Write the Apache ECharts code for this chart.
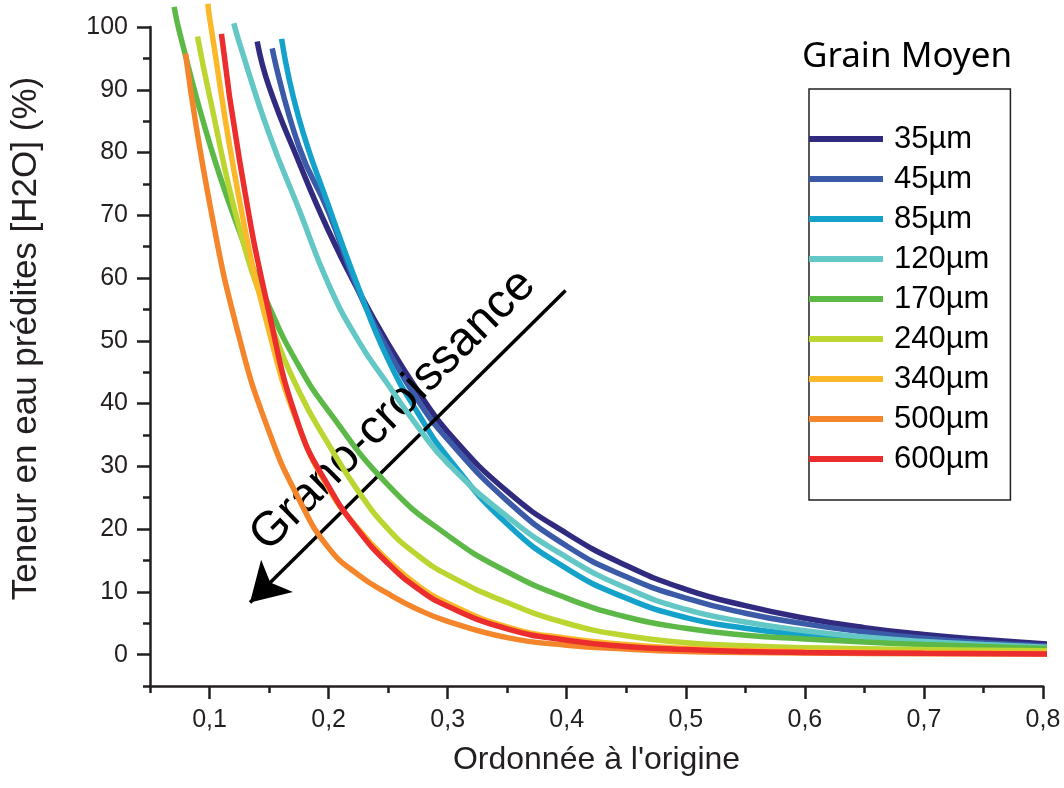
<!DOCTYPE html>
<html><head><meta charset="utf-8">
<script src="https://cdn.jsdelivr.net/npm/echarts@6/dist/echarts.min.js"></script>
<style>html,body{margin:0;padding:0;background:#fff}#c{width:1064px;height:788px}</style>
</head><body><div id="c"></div>
<script>
// ---- data (x = ordonnée à l'origine, y = teneur en eau %) ----
const grainSizes = ['35µm','45µm','85µm','120µm','170µm','240µm','340µm','500µm','600µm'];
const s35  = [[0.140,97.7],[0.15,90.5],[0.175,78.5],[0.2,67.5],[0.225,58],[0.25,49.5],[0.275,42],[0.3,35.5],[0.35,26],[0.4,19.3],[0.45,14.2],[0.5,10.4],[0.55,7.8],[0.6,5.8],[0.65,4.3],[0.7,3.2],[0.75,2.4],[0.812,1.6]];
const s45  = [[0.1526,96.6],[0.175,81],[0.2,70.5],[0.225,58],[0.25,48.5],[0.275,40.5],[0.3,34.3],[0.35,24.5],[0.4,17.3],[0.45,12.4],[0.5,9.0],[0.55,6.6],[0.6,4.9],[0.65,3.6],[0.7,2.6],[0.75,1.9],[0.812,1.3]];
const s85  = [[0.1605,98.1],[0.175,85.5],[0.2,71.5],[0.225,58.5],[0.25,47],[0.275,38.5],[0.3,31.5],[0.35,20.8],[0.4,13.7],[0.45,9.0],[0.5,5.9],[0.55,4.2],[0.6,3.1],[0.65,2.3],[0.7,1.8],[0.75,1.4],[0.812,1.0]];
const s120 = [[0.1204,100.6],[0.125,97.5],[0.15,83],[0.175,71],[0.2,59],[0.225,50],[0.25,43],[0.275,36.3],[0.3,30.5],[0.35,22],[0.4,15.5],[0.45,10.6],[0.5,7.2],[0.55,5.2],[0.6,3.8],[0.65,2.8],[0.7,2.1],[0.75,1.6],[0.812,1.1]];
const s170 = [[0.0703,103.2],[0.075,99],[0.1,81.5],[0.125,67.5],[0.15,55.5],[0.175,46],[0.2,38.8],[0.25,27],[0.3,19],[0.35,13.2],[0.4,9.0],[0.45,6.0],[0.5,4.2],[0.55,3.1],[0.6,2.5],[0.65,2.0],[0.7,1.6],[0.75,1.3],[0.812,0.9]];
const s240 = [[0.0899,98.5],[0.1,89],[0.125,68],[0.15,53.5],[0.175,42],[0.2,33.5],[0.225,26],[0.25,20],[0.275,15.8],[0.3,12.7],[0.35,8.3],[0.4,5.0],[0.45,3.0],[0.5,1.9],[0.55,1.4],[0.6,1.1],[0.65,0.95],[0.7,0.8],[0.75,0.7],[0.812,0.6]];
const s340 = [[0.0986,103.7],[0.1,101.5],[0.125,72.5],[0.15,51.5],[0.175,36.3],[0.2,26.5],[0.225,20],[0.25,15],[0.275,11],[0.3,8.2],[0.35,4.4],[0.4,2.6],[0.45,1.6],[0.5,1.0],[0.55,0.7],[0.6,0.5],[0.7,0.35],[0.812,0.25]];
const s500 = [[0.0798,95.8],[0.1,72],[0.125,50.5],[0.15,35.5],[0.175,24.8],[0.2,17],[0.225,12.7],[0.25,9.7],[0.275,7.2],[0.3,5.3],[0.35,2.7],[0.4,1.5],[0.45,0.9],[0.5,0.5],[0.55,0.35],[0.6,0.25],[0.7,0.15],[0.812,0.1]];
const s600 = [[0.110,98.9],[0.125,79],[0.15,54.5],[0.175,36.5],[0.2,26.8],[0.225,19.8],[0.25,14.5],[0.275,10.5],[0.3,7.7],[0.35,4.1],[0.4,2.3],[0.45,1.3],[0.5,0.8],[0.55,0.5],[0.6,0.35],[0.7,0.2],[0.811,0.1]];
const seriesValues = [s35, s45, s85, s120, s170, s240, s340, s500, s600];

const xMajorTicks = [0.1,0.2,0.3,0.4,0.5,0.6,0.7,0.8];
const xTickLabels = ['0,1','0,2','0,3','0,4','0,5','0,6','0,7','0,8'];
const xMinorTicks = [0.05,0.15,0.25,0.35,0.45,0.55,0.65,0.75];
const yMajorTicks = [0,10,20,30,40,50,60,70,80,90,100];
const yMinorTicks = [-5,5,15,25,35,45,55,65,75,85,95];

const arrowStart = [0.399, 58];
const arrowEnd = [0.134, 8.3];
const arrowText = 'Grano-croissance';

// ---- styles ----
const palette = ['#312b80','#3b5aa8','#14a2cb','#63c7c6','#5cb947','#bcd531','#fbb829','#f4852b','#ec2d2d'];
const ink = '#231f20';
const sansFont = "'Liberation Sans', Arial, sans-serif";

const chart = echarts.init(document.getElementById('c'), null, {renderer: 'canvas'});

function xLabel(v) {
  for (let i = 0; i < xMajorTicks.length; i++) if (Math.abs(xMajorTicks[i] - v) < 1e-9) return xTickLabels[i];
  return '';
}

const series = seriesValues.map((d, i) => ({
  name: grainSizes[i],
  type: 'line',
  data: d,
  clip: false,
  showSymbol: false,
  symbol: 'none',
  smooth: 0.5,
  lineStyle: {color: palette[i], width: 5.5},
  itemStyle: {color: palette[i]},
  emphasis: {disabled: true},
  z: 2 + i
}));
series.push({
  type: 'line',
  data: [],
  silent: true,
  z: 20,
  markLine: {
    silent: true,
    animation: false,
    symbol: ['none', 'arrow'],
    symbolSize: [34, 38],
    lineStyle: {color: '#000', width: 3.5, type: 'solid'},
    label: {show: true, position: 'middle', formatter: arrowText, fontSize: 48, fontFamily: sansFont, color: '#000', distance: 12, padding: [0, 0, 0, 30]},
    emphasis: {disabled: true},
    data: [[{coord: arrowStart}, {coord: arrowEnd}]]
  }
});

chart.setOption({
  animation: false,
  backgroundColor: '#fff',
  title: {
    text: 'Grain Moyen', left: 802, top: 40, padding: 0,
    textStyle: {fontFamily: "'Noto Sans', sans-serif", fontSize: 35, fontWeight: 'normal', color: '#000'}
  },
  legend: {
    data: grainSizes,
    orient: 'vertical',
    left: 809, top: 89,
    padding: [30, 21, 21, 0],
    itemWidth: 74, itemHeight: 6, itemGap: 0,
    icon: 'rect',
    selectedMode: false,
    borderColor: ink, borderWidth: 1.5,
    textStyle: {fontFamily: sansFont, fontSize: 31, color: '#000', lineHeight: 40, padding: [0, 0, 0, 6]}
  },
  grid: {left: 150, top: 27, right: 21, bottom: 102, containLabel: false},
  xAxis: [{
    type: 'value', min: 0.05, max: 0.8, position: 'bottom',
    name: "Ordonnée à l'origine", nameLocation: 'middle', nameGap: 58, nameMoveOverlap: false,
    nameTextStyle: {fontFamily: sansFont, fontSize: 32, color: ink},
    axisLine: {onZero: false, lineStyle: {color: ink, width: 2.5}},
    axisTick: {show: true, inside: false, length: 13, customValues: xMajorTicks, lineStyle: {color: ink, width: 2.5}},
    axisLabel: {customValues: xMajorTicks, formatter: xLabel, margin: 22, fontSize: 25, fontFamily: sansFont, color: ink},
    splitLine: {show: false}
  }, {
    type: 'value', min: 0.05, max: 0.8, position: 'bottom',
    axisLine: {show: false, onZero: false},
    axisTick: {show: true, inside: false, length: 7, customValues: xMinorTicks, lineStyle: {color: ink, width: 2.5}},
    axisLabel: {show: false},
    splitLine: {show: false}
  }],
  yAxis: [{
    type: 'value', min: -5, max: 100, position: 'left',
    name: 'Teneur en eau prédites [H2O] (%)', nameLocation: 'middle', nameGap: 106, nameMoveOverlap: false,
    nameTextStyle: {fontFamily: sansFont, fontSize: 35, color: ink, padding: [0, 0, 0, 36]},
    axisLine: {onZero: false, lineStyle: {color: ink, width: 2.5}},
    axisTick: {show: true, inside: false, length: 13, customValues: yMajorTicks, lineStyle: {color: ink, width: 2.5}},
    axisLabel: {customValues: yMajorTicks, margin: 22, fontSize: 25, fontFamily: sansFont, color: ink},
    splitLine: {show: false}
  }, {
    type: 'value', min: -5, max: 100, position: 'left',
    axisLine: {show: false, onZero: false},
    axisTick: {show: true, inside: false, length: 7, customValues: yMinorTicks, lineStyle: {color: ink, width: 2.5}},
    axisLabel: {show: false},
    splitLine: {show: false}
  }],
  series: series
});
</script></body></html>
